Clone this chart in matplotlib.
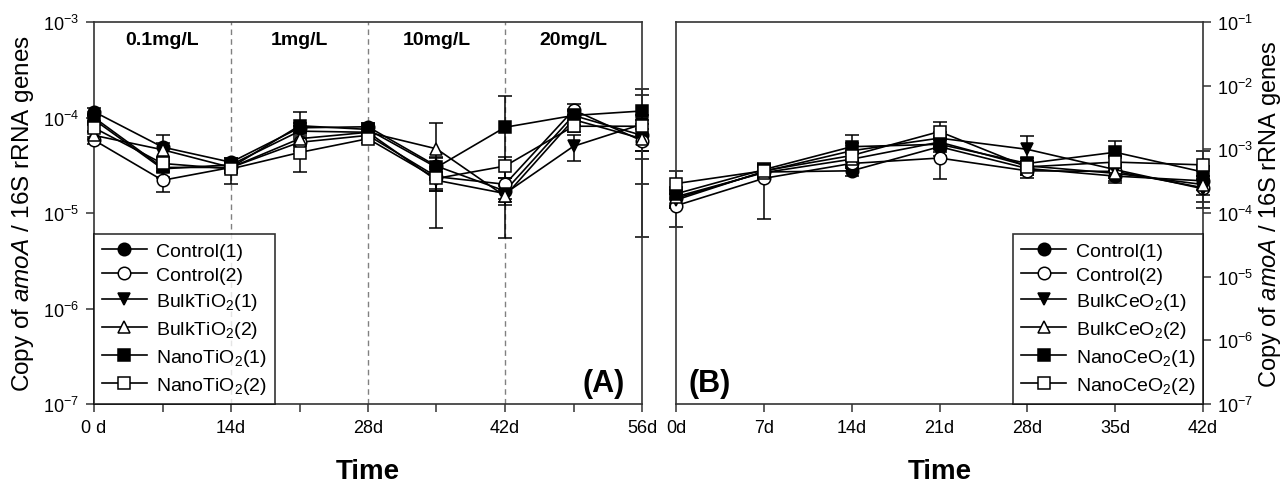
import matplotlib
matplotlib.use("Agg")
import matplotlib.pyplot as plt
import numpy as np

plt.rcParams['font.family'] = ['Liberation Sans', 'DejaVu Sans']
plt.rcParams['mathtext.fontset'] = 'custom'
plt.rcParams['mathtext.rm'] = 'Liberation Sans'
plt.rcParams['mathtext.it'] = 'Liberation Sans:italic'
plt.rcParams['mathtext.bf'] = 'Liberation Sans:bold'

# ---------------- Panel A data (TiO2) ----------------
days_a = [0, 7, 14, 21, 28, 35, 42, 49, 56]
xtick_labels_a = ["0 d", "", "14d", "", "28d", "", "42d", "", "56d"]
conc_labels = ["0.1mg/L", "1mg/L", "10mg/L", "20mg/L"]
conc_label_days = [7, 21, 35, 49]
boundary_days = [14, 28, 42]

labels_a = ["Control(1)", "Control(2)", "BulkTiO$_2$(1)", "BulkTiO$_2$(2)",
            "NanoTiO$_2$(1)", "NanoTiO$_2$(2)"]
a_control1 = [1.15e-4, 4.9e-5, 3.4e-5, 7.8e-5, 8.0e-5, 3.1e-5, 1.7e-5, 1.05e-4, 6.5e-5]
a_control2 = [5.8e-5, 2.2e-5, 3.0e-5, 5.5e-5, 6.5e-5, 2.4e-5, 2.0e-5, 1.2e-4, 5.7e-5]
a_bulk1 = [9.5e-5, 2.9e-5, 3.2e-5, 7.2e-5, 7.0e-5, 2.2e-5, 1.6e-5, 5.0e-5, 8.5e-5]
a_bulk2 = [6.5e-5, 4.6e-5, 3.0e-5, 6.0e-5, 7.0e-5, 4.7e-5, 1.5e-5, 9.5e-5, 6.0e-5]
a_nano1 = [1.0e-4, 3.0e-5, 3.0e-5, 8.2e-5, 7.5e-5, 3.0e-5, 7.9e-5, 1.05e-4, 1.17e-4]
a_nano2 = [7.8e-5, 3.3e-5, 2.9e-5, 4.3e-5, 6.0e-5, 2.3e-5, 3.1e-5, 8.1e-5, 8.1e-5]

a_control1_err = [1.0e-5, 1.7e-5, 4e-6, 1.0e-5, 8e-6, 8e-6, 3e-6, 1.5e-5, 2e-5]
a_control2_err = [5e-6, 5.6e-6, 4e-6, 1e-5, 6e-6, 6e-6, 3e-6, 2e-5, 3.7e-5]
a_bulk1_err = [8e-6, 6e-6, 4e-6, 1e-5, 6e-6, 5e-6, 3e-6, 1.5e-5, 2e-5]
a_bulk2_err = [6e-6, 8e-6, 4e-6, 8e-6, 6e-6, 4e-5, 3e-6, 1.2e-5, 1.5e-5]
a_nano1_err = [8e-6, 6e-6, 4e-6, 3.2e-5, 8e-6, 8e-6, 8.9e-5, 1.2e-5, 8e-5]
a_nano2_err = [6e-6, 6e-6, 9e-6, 1.6e-5, 6e-6, 6e-6, 8e-6, 1e-5, 9e-5]

# ---------------- Panel B data (CeO2) ----------------
days_b = [0, 7, 14, 21, 28, 35, 42]
xtick_labels_b = ["0d", "7d", "14d", "21d", "28d", "35d", "42d"]
labels_b = ["Control(1)", "Control(2)", "BulkCeO$_2$(1)", "BulkCeO$_2$(2)",
            "NanoCeO$_2$(1)", "NanoCeO$_2$(2)"]
b_control1 = [1.7e-4, 4.4e-4, 4.6e-4, 1.1e-3, 5.0e-4, 3.8e-4, 3.2e-4]
b_control2 = [1.3e-4, 3.5e-4, 6.0e-4, 7.3e-4, 4.6e-4, 4.5e-4, 2.5e-4]
b_bulk1 = [1.6e-4, 4.5e-4, 9.5e-4, 1.5e-3, 1.0e-3, 4.8e-4, 2.4e-4]
b_bulk2 = [1.8e-4, 4.3e-4, 7.0e-4, 1.3e-3, 5.5e-4, 4.2e-4, 2.8e-4]
b_nano1 = [2.0e-4, 4.8e-4, 1.1e-3, 1.2e-3, 6.0e-4, 9.0e-4, 4.4e-4]
b_nano2 = [2.9e-4, 4.6e-4, 8.0e-4, 1.9e-3, 5.3e-4, 6.3e-4, 5.7e-4]

b_control1_err = [4e-5, 8e-5, 8e-5, 3e-4, 1e-4, 8e-5, 6e-5]
b_control2_err = [7e-5, 2.7e-4, 1e-4, 3.9e-4, 1e-4, 1e-4, 1.3e-4]
b_bulk1_err = [4e-5, 1e-4, 3e-4, 4e-4, 6e-4, 1e-4, 9e-5]
b_bulk2_err = [5e-5, 1e-4, 1.5e-4, 3e-4, 1e-4, 1e-4, 5e-5]
b_nano1_err = [6e-5, 1e-4, 6e-4, 3e-4, 1.2e-4, 4.5e-4, 1e-4]
b_nano2_err = [1.7e-4, 1e-4, 1.5e-4, 8e-4, 1.2e-4, 1.5e-4, 3.8e-4]

ytick_vals_a = [1e-7, 1e-6, 1e-5, 1e-4, 1e-3]
ytick_labels_a = ["$10^{-7}$", "$10^{-6}$", "$10^{-5}$", "$10^{-4}$", "$10^{-3}$"]
ytick_vals_b = [1e-7, 1e-6, 1e-5, 1e-4, 1e-3, 1e-2, 1e-1]
ytick_labels_b = ["$10^{-7}$", "$10^{-6}$", "$10^{-5}$", "$10^{-4}$", "$10^{-3}$",
                  "$10^{-2}$", "$10^{-1}$"]

styles = [("o", "black"), ("o", "white"), ("v", "black"),
          ("^", "white"), ("s", "black"), ("s", "white")]

ylabel = "Copy of $\\mathit{amoA}$ / 16S rRNA genes"
spine_col = "#333333"

fig = plt.figure(figsize=(12.88, 4.85), dpi=100)
ax1 = fig.add_axes([94 / 1288, 80 / 485, 548 / 1288, 382 / 485])
ax2 = fig.add_axes([676 / 1288, 80 / 485, 527 / 1288, 382 / 485])


def draw(ax, days, series, errs, labels):
    handles = []
    for vals, err, lab, (mk, fc) in zip(series, errs, labels, styles):
        v = np.array(vals)
        e = np.array(err)
        lo = np.minimum(e, 0.93 * v)
        _, caps, bars = ax.errorbar(days, v, yerr=[lo, e], fmt="none", ecolor="black",
                                    elinewidth=1.1, capsize=5, capthick=1.1, zorder=2)
        for c in caps:
            c.set_clip_on(False)
        for b in bars:
            b.set_clip_on(False)
        h, = ax.plot(days, v, marker=mk, color="black", mfc=fc, mec="black",
                     ms=9, lw=1.2, mew=1.1, label=lab, zorder=3, clip_on=False)
        handles.append(h)
    return handles


ha = draw(ax1, days_a, [a_control1, a_control2, a_bulk1, a_bulk2, a_nano1, a_nano2],
          [a_control1_err, a_control2_err, a_bulk1_err, a_bulk2_err, a_nano1_err, a_nano2_err],
          labels_a)
hb = draw(ax2, days_b, [b_control1, b_control2, b_bulk1, b_bulk2, b_nano1, b_nano2],
          [b_control1_err, b_control2_err, b_bulk1_err, b_bulk2_err, b_nano1_err, b_nano2_err],
          labels_b)

for ax in (ax1, ax2):
    ax.set_yscale("log")
    ax.minorticks_off()
    for s in ax.spines.values():
        s.set_color(spine_col)
        s.set_linewidth(1.2)
    ax.tick_params(direction="out", length=6, width=1.1, color=spine_col,
                   labelsize=13, pad=5)
    ax.set_xlabel("Time", fontsize=20, fontweight="bold", labelpad=16)

# Panel A
ax1.set_xlim(0, 56)
ax1.set_ylim(1e-7, 1e-3)
ax1.set_xticks(days_a)
ax1.set_xticklabels(xtick_labels_a)
ax1.set_yticks(ytick_vals_a)
ax1.set_yticklabels(ytick_labels_a)
ax1.minorticks_off()
ax1.set_ylabel(ylabel, fontsize=17.5, labelpad=5)
for d in boundary_days:
    ax1.axvline(d, color="#808080", ls=(0, (4, 3)), lw=1.0, zorder=1)
for d, t in zip(conc_label_days, conc_labels):
    ax1.text(d, 0.955, t, transform=ax1.get_xaxis_transform(), ha="center",
             va="center", fontsize=14, fontweight="bold")
ax1.text(0.969, 0.015, "(A)", transform=ax1.transAxes, ha="right", va="bottom",
         fontsize=22, fontweight="bold")
leg_kw = dict(fontsize=14, frameon=True, fancybox=False,
              handlelength=2.3, handletextpad=0.5, labelspacing=0.36,
              borderpad=0.4, borderaxespad=0)
leg1 = ax1.legend(handles=ha, loc="lower left", bbox_to_anchor=(0, 0), **leg_kw)
leg1.get_frame().set_edgecolor("black")
leg1.get_frame().set_linewidth(1.2)

# Panel B
ax2.set_xlim(0, 42)
ax2.set_ylim(1e-7, 1e-1)
ax2.set_xticks(days_b)
ax2.set_xticklabels(xtick_labels_b)
ax2.yaxis.tick_right()
ax2.yaxis.set_label_position("right")
ax2.set_yticks(ytick_vals_b)
ax2.set_yticklabels(ytick_labels_b)
ax2.minorticks_off()
ax2.tick_params(axis="y", which="both", left=False, right=True, pad=4)
ax2.set_ylabel(ylabel, fontsize=17, labelpad=3, rotation=90)
ax2.text(0.023, 0.015, "(B)", transform=ax2.transAxes, ha="left", va="bottom",
         fontsize=22, fontweight="bold")
leg2 = ax2.legend(handles=hb, loc="lower right", bbox_to_anchor=(1, 0), **leg_kw)
leg2.get_frame().set_edgecolor("black")
leg2.get_frame().set_linewidth(1.2)

fig.savefig("out.png", dpi=100)
